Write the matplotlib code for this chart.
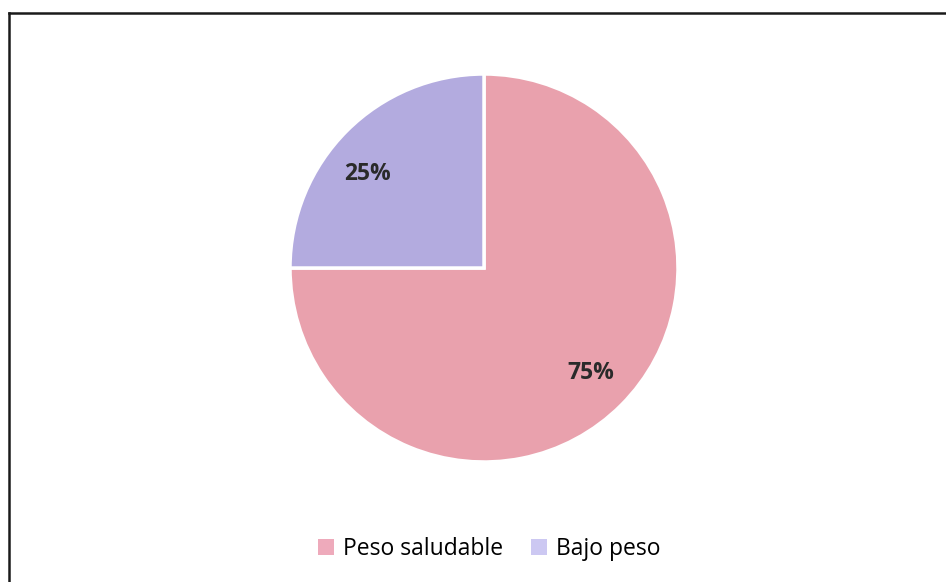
import numpy as np
import matplotlib.pyplot as plt
from matplotlib.patches import Patch
from matplotlib.lines import Line2D

categories = ["Peso saludable", "Bajo peso"]
values = [75, 25]
colors = ["#E9A1AD", "#B3ABDF"]
legend_colors = ["#EEAABB", "#CCC8F2"]

W, H = 946, 582
fig = plt.figure(figsize=(W / 100, H / 100), dpi=100)
fig.patch.set_facecolor("white")

# pie area in pixel terms
cx, cy, r = 484, 268, 194
ax = fig.add_axes([(cx - r) / W, (H - cy - r) / H, 2 * r / W, 2 * r / H])
wedges, texts, autotexts = ax.pie(
    values, colors=colors, startangle=90, counterclock=False,
    autopct="%d%%", pctdistance=0.77,
    wedgeprops=dict(edgecolor="white", linewidth=2.5),
    textprops=dict(fontsize=16.5, fontweight="bold", color="#2a2a2a", family="Open Sans"),
)
# nudge the small-slice label a little toward the left edge of its wedge
for w, t, shift in zip(wedges, autotexts, [0.5, 6.0]):
    ang = np.deg2rad((w.theta1 + w.theta2) / 2 + shift)
    t.set_position((0.77 * np.cos(ang), 0.77 * np.sin(ang)))
ax.set_aspect("equal")
ax.set_xlim(-1.0, 1.0)
ax.set_ylim(-1.0, 1.0)
ax.axis("off")

# chart frame (top and left edges)
fig.add_artist(Line2D([9 / W, 1], [1 - 13 / H, 1 - 13 / H], color="#1a1a1a", lw=1.8, transform=fig.transFigure))
fig.add_artist(Line2D([9 / W, 9 / W], [1 - 13 / H, 0], color="#1a1a1a", lw=1.8, transform=fig.transFigure))

handles = [Patch(facecolor=c, edgecolor="none") for c in legend_colors]
fig.legend(handles, categories, loc="center", bbox_to_anchor=(489 / W, 1 - 549 / H),
           ncol=2, frameon=False, handlelength=0.7, handleheight=0.7, handletextpad=0.4,
           columnspacing=1.2, prop=dict(family="Open Sans", size=16.5))

fig.savefig("out.png", dpi=100, facecolor="white")
